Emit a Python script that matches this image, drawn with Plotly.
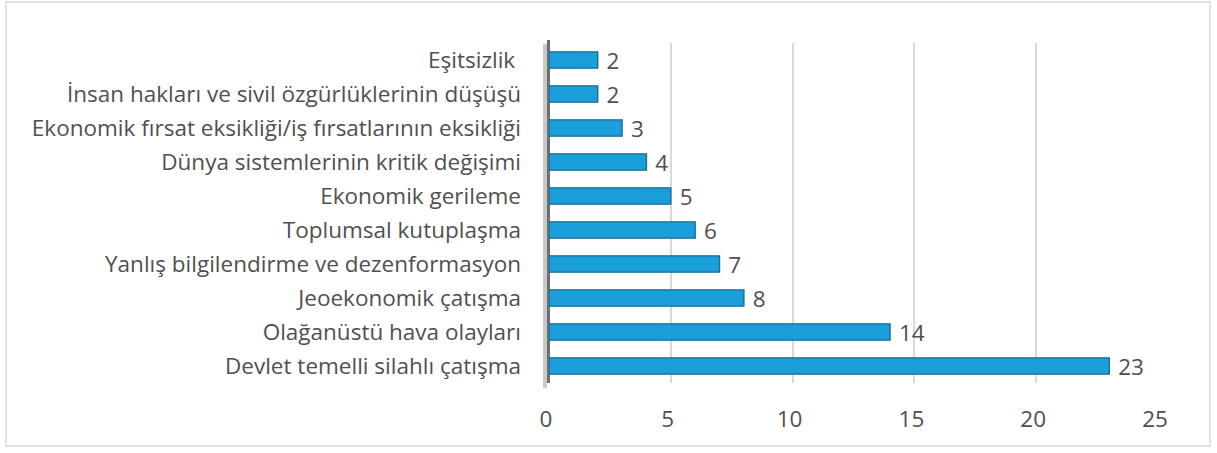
import plotly.graph_objects as go

categories = [
    "Devlet temelli silahlı çatışma",
    "Olağanüstü hava olayları",
    "Jeoekonomik çatışma",
    "Yanlış bilgilendirme ve dezenformasyon",
    "Toplumsal kutuplaşma",
    "Ekonomik gerileme",
    "Dünya sistemlerinin kritik değişimi",
    "Ekonomik fırsat eksikliği/iş fırsatlarının eksikliği",
    "İnsan hakları ve sivil özgürlüklerinin düşüşü",
    "Eşitsizlik\u00a0",
]
values = [23, 14, 8, 7, 6, 5, 4, 3, 2, 2]
x_ticks = [0, 5, 10, 15, 20, 25]

FONT = "Open Sans"
FS = 22.5
TXT = "#505050"
W, H = 1217, 453
L, R, T, B = 549, 59, 43, 70
PW, PH = W - L - R, H - T - B


def px_x(p):
    return (p - L) / PW


def px_y(p):
    return 1 - (p - T) / PH


fig = go.Figure()
fig.add_trace(go.Bar(
    y=categories, x=values, orientation="h",
    marker=dict(color="#1B9FDB", line=dict(color="#176C9A", width=1.4)),
    width=0.48,
    text=values, texttemplate="\u00a0%{x}", textposition="outside",
    constraintext="none",
    textfont=dict(family=FONT, size=FS, color=TXT),
    cliponaxis=False,
))
fig.update_layout(
    width=W, height=H,
    margin=dict(l=L, r=R, t=T, b=B),
    paper_bgcolor="white", plot_bgcolor="white",
    showlegend=False,
    font=dict(family=FONT, size=FS, color=TXT),
    xaxis=dict(range=[0, 25], tickvals=x_ticks, showgrid=True, gridcolor="#D9D9D9", gridwidth=2,
               zeroline=False, showline=False, ticklabelstandoff=20, ticklabelshift=-3,
               tickfont=dict(family=FONT, size=FS, color=TXT)),
    yaxis=dict(showgrid=False, showline=False,
               ticklabelstandoff=27, tickfont=dict(family=FONT, size=FS, color=TXT)),
    shapes=[
        dict(type="rect", xref="paper", yref="paper",
             x0=-(L - 6) / PW, x1=(1210 - L) / PW,
             y0=-(446 - (T + PH)) / PH, y1=1 + (T - 2) / PH,
             line=dict(color="#D9D9D9", width=1.5)),
        dict(type="rect", xref="paper", yref="paper",
             x0=px_x(543), x1=px_x(547), y0=px_y(388), y1=px_y(44),
             fillcolor="#C8C8C8", line=dict(width=0), layer="below"),
        dict(type="rect", xref="paper", yref="paper",
             x0=px_x(547), x1=px_x(550), y0=px_y(383), y1=px_y(40),
             fillcolor="#6E6E6E", line=dict(width=0), layer="below"),
    ],
)
fig.write_html("out.html", post_script="document.body.style.margin='0';",
               config={"displayModeBar": False})
